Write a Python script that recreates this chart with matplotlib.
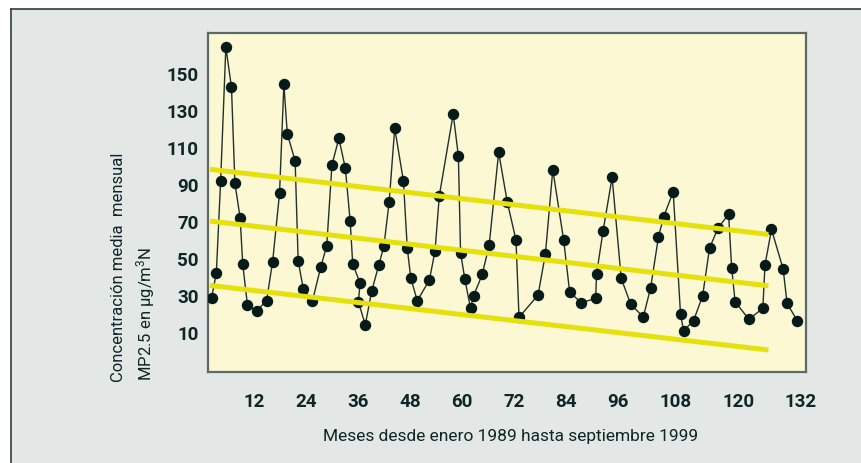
import matplotlib
matplotlib.use("Agg")
import matplotlib.pyplot as plt
from matplotlib.patches import Rectangle

# Monthly mean PM2.5 concentration (x: months since Jan 1989, y: ug/m3N)
months = [2.2, 3.3, 4.3, 5.5, 6.8, 7.6, 8.8, 9.4, 10.5, 12.6,
          14.9, 16.3, 17.9, 18.9, 19.7, 21.5, 22.2, 23.4, 25.5, 27.4,
          28.8, 30.0, 31.6, 33.1, 34.2, 34.8, 36.5, 36.1, 37.7, 39.2,
          40.8, 42.0, 43.2, 44.5, 46.5, 47.4, 48.2, 49.7, 52.5, 53.8,
          54.8, 58.0, 59.2, 59.7, 60.7, 62.0, 62.7, 64.7, 66.3, 68.5,
          70.5, 72.5, 73.2, 77.6, 79.3, 81.0, 83.5, 84.9, 87.6, 90.9,
          91.1, 92.6, 94.7, 96.8, 99.0, 101.9, 103.6, 105.4, 106.6, 108.8,
          110.5, 111.2, 113.5, 115.6, 117.2, 119.2, 121.6, 122.3, 123.1, 126.3,
          129.5, 130.0, 131.5, 134.2, 135.1, 137.5]
conc = [29.2, 42.3, 92.2, 164.3, 142.6, 90.8, 72.3, 47.2, 25.1, 22.0,
        27.5, 48.6, 85.4, 144.2, 117.4, 103.0, 49.1, 33.7, 27.4, 45.6,
        57.2, 100.7, 115.1, 98.9, 70.7, 47.5, 36.9, 27.0, 14.6, 32.9,
        46.6, 57.0, 80.6, 120.6, 92.2, 55.8, 39.9, 27.5, 38.7, 54.3,
        84.2, 128.2, 105.6, 53.4, 39.1, 23.5, 30.1, 41.7, 57.4, 107.5,
        80.6, 60.3, 18.6, 30.6, 52.9, 98.2, 60.4, 32.1, 26.5, 28.8,
        41.9, 65.0, 94.1, 39.6, 25.6, 18.8, 34.6, 62.0, 72.8, 86.3,
        20.2, 11.4, 16.8, 30.2, 56.0, 66.9, 74.1, 45.3, 27.0, 17.5,
        23.5, 46.8, 66.0, 44.6, 26.1, 16.6]

# Trend lines: upper envelope, central trend, lower envelope
trend_x = [1.85, 130.8]
trend_upper = [98.4, 63.3]
trend_mid = [70.5, 35.6]
trend_lower = [35.8, 1.0]

xtick_labels = ["12", "24", "36", "48", "60", "72", "84", "96", "108", "120", "132"]
xtick_pos = [12, 24, 36, 48, 60, 72, 84, 96, 109.4, 123.9, 138.2]
ytick_vals = [10, 30, 50, 70, 90, 110, 130, 150]

base_font = "Roboto"
plt.rcParams["font.family"] = [base_font, "DejaVu Sans"]
plt.rcParams["mathtext.fontset"] = "custom"
plt.rcParams["mathtext.rm"] = base_font
plt.rcParams["mathtext.it"] = base_font + ":italic"
plt.rcParams["mathtext.bf"] = base_font + ":bold"

W, H = 862, 463
fig = plt.figure(figsize=(W / 100, H / 100), dpi=100)
fig.patch.set_facecolor("white")

text_col = "#0e2626"
panel_col = "#e3e7e6"

# Gray background panel with dark top/left edges
fig.patches.append(Rectangle((11 / W, 0), 1, 1 - 9 / H, transform=fig.transFigure,
                             facecolor=panel_col, edgecolor="none", zorder=-5))
fig.add_artist(plt.Line2D([11 / W, 1], [1 - 9 / H, 1 - 9 / H], transform=fig.transFigure,
                          color="#2e3e3c", lw=1.2, zorder=-4))
fig.add_artist(plt.Line2D([11 / W, 11 / W], [0, 1 - 9 / H], transform=fig.transFigure,
                          color="#2e3e3c", lw=1.2, zorder=-4))

left, right = 208.3, 805.7
top, bottom = 33.3, 371.7
ax = fig.add_axes([left / W, 1 - bottom / H, (right - left) / W, (bottom - top) / H])
ax.set_zorder(2)
ax.set_facecolor("#fbf8d3")
for sp in ax.spines.values():
    sp.set_color("#5c6b68")
    sp.set_linewidth(1.6)

ax.plot(months, conc, color="#22302e", lw=1.0, zorder=2)
ax.plot(months, conc, "o", color="#061a1a", ms=7.2, mec="#061a1a", zorder=3)

for tr in (trend_upper, trend_mid, trend_lower):
    ax.plot(trend_x, tr, color="#e6e00c", lw=3.6, solid_capstyle="butt", zorder=4)

ax.set_xlim(1.45, 139.4)
ax.set_ylim(-10.7, 171.7)

ax.set_xticks(xtick_pos, xtick_labels)
ax.set_yticks(ytick_vals, [str(v) for v in ytick_vals])
ax.tick_params(length=0, labelsize=13.5, labelcolor=text_col)
ax.tick_params(axis="x", pad=15)
ax.tick_params(axis="y", pad=7)
for lab in ax.get_xticklabels() + ax.get_yticklabels():
    lab.set_fontweight("bold")

fig.text(511 / W, 1 - 437 / H, "Meses desde enero 1989 hasta septiembre 1999",
         ha="center", va="center", fontsize=12.5, color=text_col)
fig.text(119 / W, 1 - 382 / H, "Concentración media  mensual", rotation=90,
         ha="center", va="bottom", fontsize=12, color=text_col)
fig.text(146 / W, 1 - 381 / H, r"MP2.5 en µg/m$^{3}$N", rotation=90,
         ha="center", va="bottom", fontsize=12, color=text_col)

fig.savefig("out.png", dpi=100, facecolor=fig.get_facecolor())
